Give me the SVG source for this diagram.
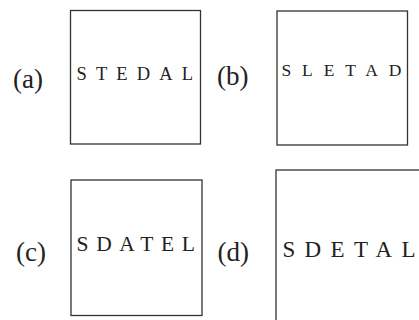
<svg xmlns="http://www.w3.org/2000/svg" width="419" height="320" viewBox="0 0 419 320">
<style>
.box{fill:#fff;stroke:#333;stroke-width:1.3}
.lbl{font-family:"Liberation Serif",serif;font-size:27px;fill:#222}
.word{font-family:"Liberation Serif",serif;fill:#222}
</style>
<rect width="419" height="320" fill="#fff"/>
<g id="a">
<text class="lbl" x="13" y="87.5">(a)</text>
<rect class="box" x="70.5" y="10.5" width="130" height="133.5"/>
<text class="word" x="76.5" y="79.5" font-size="18.5" textLength="116.5" lengthAdjust="spacing">STEDAL</text>
</g>
<g id="b">
<text class="lbl" x="217" y="84.5">(b)</text>
<rect class="box" x="277" y="11" width="130.5" height="134"/>
<text class="word" x="281.5" y="76" font-size="17.5" textLength="120" lengthAdjust="spacing">SLETAD</text>
</g>
<g id="c">
<text class="lbl" x="16" y="260.5">(c)</text>
<rect class="box" x="71" y="180" width="131" height="135.5"/>
<text class="word" x="76.5" y="251" font-size="21.5" textLength="118.5" lengthAdjust="spacing">SDATEL</text>
</g>
<g id="d">
<text class="lbl" x="217.5" y="261">(d)</text>
<rect class="box" x="276" y="170" width="200" height="200"/>
<text class="word" x="282.5" y="256.5" font-size="23" textLength="133" lengthAdjust="spacing">SDETAL</text>
</g>
</svg>
